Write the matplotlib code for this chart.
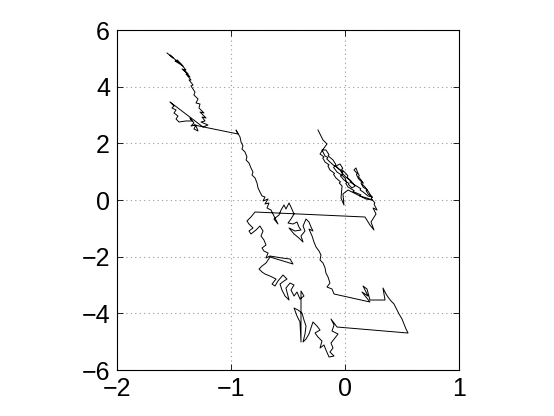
import matplotlib
matplotlib.use("Agg")
import matplotlib.pyplot as plt

# walk trajectory, (x, y) in the order it is drawn
# top cluster
walk_top = [(-1.561, 5.189), (-1.509, 5.012), (-1.535, 5.118), (-1.465, 4.871), (-1.491, 4.906),
            (-1.421, 4.730), (-1.474, 4.942), (-1.439, 4.800), (-1.395, 4.589), (-1.430, 4.624),
            (-1.377, 4.448), (-1.412, 4.589), (-1.360, 4.342), (-1.395, 4.448), (-1.351, 4.236),
            (-1.368, 4.236), (-1.333, 4.059), (-1.351, 4.024), (-1.316, 3.812), (-1.325, 3.706),
            (-1.289, 3.565), (-1.307, 3.424), (-1.272, 3.389), (-1.281, 3.247), (-1.237, 3.071),
            (-1.272, 3.106), (-1.219, 2.894), (-1.254, 2.930), (-1.228, 2.789), (-1.263, 2.753),
            (-1.202, 2.647), (-1.246, 2.577)]

# small cluster below it
walk_left = [(-1.535, 3.459), (-1.500, 3.318), (-1.518, 3.247), (-1.482, 3.177), (-1.500, 3.071),
             (-1.465, 2.965), (-1.482, 2.859), (-1.456, 2.753), (-1.395, 2.789), (-1.342, 2.789),
             (-1.360, 2.894), (-1.325, 2.718), (-1.351, 2.612), (-1.307, 2.647), (-1.325, 2.506),
             (-1.289, 2.436), (-1.307, 2.612), (-1.325, 2.647)]

# long descent towards the middle
walk_down = [(-0.939, 2.330), (-0.956, 2.471), (-0.921, 2.224), (-0.912, 2.047), (-0.895, 1.906),
             (-0.904, 1.800), (-0.877, 1.694), (-0.860, 1.518), (-0.868, 1.412), (-0.842, 1.306),
             (-0.825, 1.130), (-0.807, 0.988), (-0.816, 0.882), (-0.789, 0.777), (-0.772, 0.600),
             (-0.763, 0.424), (-0.746, 0.282), (-0.728, 0.141), (-0.702, 0.106), (-0.719, -0.035),
             (-0.675, 0.035), (-0.702, -0.141), (-0.667, -0.106), (-0.684, -0.282), (-0.649, -0.353)]

# middle cluster
walk_mid = [(-0.632, -0.494), (-0.605, -0.706), (-0.588, -0.847), (-0.623, -0.671), (-0.579, -0.529),
            (-0.561, -0.353), (-0.535, -0.176), (-0.518, -0.318), (-0.491, -0.106), (-0.474, -0.247),
            (-0.447, -0.494), (-0.474, -0.671), (-0.500, -0.812), (-0.456, -0.847), (-0.421, -0.777),
            (-0.404, -0.953), (-0.386, -1.059), (-0.439, -1.094), (-0.491, -0.988), (-0.447, -1.200),
            (-0.404, -1.341), (-0.368, -1.483), (-0.386, -1.271), (-0.351, -1.094), (-0.368, -0.918),
            (-0.342, -0.671), (-0.316, -0.777), (-0.298, -0.953), (-0.281, -1.094), (-0.316, -1.024),
            (-0.289, -1.271), (-0.272, -1.483), (-0.254, -1.659), (-0.228, -1.800), (-0.211, -1.941),
            (-0.219, -2.118), (-0.193, -2.224), (-0.175, -2.400), (-0.167, -2.577), (-0.149, -2.718),
            (-0.132, -2.930), (-0.158, -3.071), (-0.114, -3.142), (-0.096, -3.318)]

# lower right loop and bottom cluster
walk_low = [(0.219, -3.600), (0.149, -3.247), (0.202, -3.389), (0.158, -3.036), (0.193, -3.142),
            (0.219, -3.530), (0.351, -3.530), (0.333, -3.106), (0.360, -3.318), (0.377, -3.424),
            (0.404, -3.565), (0.430, -3.671), (0.456, -3.883), (0.474, -4.024), (0.500, -4.200),
            (0.518, -4.377), (0.535, -4.553), (0.553, -4.695), (-0.070, -4.483), (-0.123, -4.200),
            (-0.096, -4.412), (-0.114, -4.624), (-0.061, -4.730), (-0.088, -4.871), (-0.123, -5.048),
            (-0.105, -5.224), (-0.132, -5.365), (-0.096, -5.506), (-0.140, -5.542), (-0.167, -5.295),
            (-0.184, -5.118), (-0.219, -5.224), (-0.202, -4.977), (-0.237, -4.836), (-0.263, -4.695),
            (-0.219, -4.589), (-0.246, -4.448), (-0.281, -4.306), (-0.298, -4.518), (-0.316, -4.730),
            (-0.342, -4.906), (-0.368, -5.012), (-0.351, -4.730), (-0.342, -4.448), (-0.360, -4.236),
            (-0.377, -3.989), (-0.412, -3.883), (-0.447, -3.812), (-0.421, -4.095), (-0.395, -4.306),
            (-0.386, -5.012), (-0.386, -3.212), (-0.360, -3.389), (-0.395, -3.495), (-0.421, -3.247),
            (-0.447, -3.389), (-0.474, -3.177), (-0.447, -3.000), (-0.482, -2.930), (-0.518, -3.106),
            (-0.491, -3.530), (-0.526, -3.389), (-0.553, -3.177), (-0.570, -2.965), (-0.535, -2.859),
            (-0.509, -2.789), (-0.544, -2.647), (-0.588, -2.859), (-0.614, -3.036), (-0.640, -2.965),
            (-0.605, -2.789), (-0.658, -2.683), (-0.702, -2.612), (-0.728, -2.541), (-0.754, -2.436),
            (-0.728, -2.330), (-0.693, -2.224), (-0.658, -2.012), (-0.456, -2.259), (-0.482, -2.083),
            (-0.553, -2.047), (-0.658, -1.977), (-0.693, -2.047), (-0.675, -1.871), (-0.711, -1.800),
            (-0.728, -1.694), (-0.693, -1.588), (-0.711, -1.412), (-0.737, -1.271), (-0.719, -1.094),
            (-0.746, -0.918), (-0.781, -1.059), (-0.825, -1.200), (-0.842, -1.094), (-0.807, -0.988),
            (-0.842, -0.847), (-0.860, -0.741), (-0.825, -0.600), (-0.789, -0.424)]

# right cluster, reached by the long horizontal jump
walk_right = [(0.175, -0.600), (0.219, -0.882), (0.254, -1.059), (0.228, -0.777), (0.272, -0.494),
              (0.246, -0.282), (0.281, -0.353), (0.255, -0.150), (0.262, -0.100), (0.230, 0.050),
              (0.240, 0.100), (0.205, 0.200), (0.185, 0.330), (0.196, 0.360), (0.160, 0.450),
              (0.140, 0.600), (0.150, 0.630), (0.118, 0.750), (0.100, 0.900), (0.108, 0.930),
              (0.079, 1.059), (0.096, 1.130), (0.110, 0.980), (0.125, 0.860), (0.118, 0.820),
              (0.140, 0.710), (0.160, 0.600), (0.152, 0.550), (0.178, 0.450), (0.195, 0.340),
              (0.205, 0.300), (0.220, 0.200), (0.237, 0.106), (0.202, 0.141), (0.160, 0.280),
              (0.132, 0.353), (0.138, 0.400), (0.090, 0.520), (0.044, 0.635), (0.050, 0.680),
              (0.010, 0.800), (-0.026, 0.953), (-0.018, 0.990), (-0.055, 1.100), (-0.079, 1.200),
              (-0.044, 1.271), (-0.020, 1.120), (-0.030, 1.080), (0.005, 0.950), (0.026, 0.847),
              (0.018, 0.800), (0.050, 0.680), (0.070, 0.580), (0.088, 0.494), (0.061, 0.424),
              (0.030, 0.550), (0.035, 0.580), (-0.009, 0.706), (-0.040, 0.850), (-0.030, 0.880),
              (-0.070, 0.988), (-0.100, 1.150), (-0.090, 1.190), (-0.132, 1.341), (-0.160, 1.450),
              (-0.150, 1.500), (-0.175, 1.553), (-0.202, 1.765), (-0.167, 1.765), (-0.140, 1.600),
              (-0.148, 1.560), (-0.105, 1.412), (-0.080, 1.250), (-0.088, 1.210), (-0.044, 1.059),
              (-0.020, 0.920), (-0.028, 0.880), (0.000, 0.777), (0.015, 0.620), (0.008, 0.580),
              (0.026, 0.459), (0.080, 0.330), (0.070, 0.300), (0.140, 0.180), (0.130, 0.140),
              (0.200, 0.060), (0.237, 0.000), (0.184, 0.035), (0.026, 0.353), (-0.018, 0.212),
              (-0.009, -0.176), (-0.035, 0.071), (-0.026, 0.494), (-0.050, 0.600), (-0.040, 0.640),
              (-0.079, 0.777), (-0.100, 0.900), (-0.092, 0.940), (-0.132, 1.059), (-0.150, 1.200),
              (-0.140, 1.240), (-0.175, 1.341), (-0.195, 1.480), (-0.185, 1.520), (-0.219, 1.624),
              (-0.184, 1.835), (-0.158, 1.977), (-0.193, 2.118), (-0.219, 2.330), (-0.237, 2.471)]

walk = walk_top + walk_left + walk_down + walk_mid + walk_low + walk_right
xs = [p[0] for p in walk]
ys = [p[1] for p in walk]

x_ticks = [-2, -1, 0, 1]
y_ticks = [-6, -4, -2, 0, 2, 4, 6]

fig = plt.figure(figsize=(5.54, 4.16), dpi=100)
ax = fig.add_axes([117 / 554, 46 / 416, 342 / 554, 340 / 416])

ax.plot(xs, ys, color="black", linewidth=0.7)

ax.set_xlim(-2, 1)
ax.set_ylim(-6, 6)
ax.set_xticks(x_ticks)
ax.set_yticks(y_ticks)
ax.set_xticklabels([str(t).replace("-", "\u2212") for t in x_ticks])
ax.set_yticklabels([str(t).replace("-", "\u2212") for t in y_ticks])

ax.grid(True, linestyle=(0, (1, 3)), color="#999999", linewidth=0.8)
ax.tick_params(direction="in", length=4, width=0.6, top=True, right=True,
               labelsize=18, pad=5)
for lab in ax.get_xticklabels() + ax.get_yticklabels():
    lab.set_family("Liberation Sans")
for sp in ax.spines.values():
    sp.set_linewidth(0.8)

fig.savefig("out.png", dpi=100)
